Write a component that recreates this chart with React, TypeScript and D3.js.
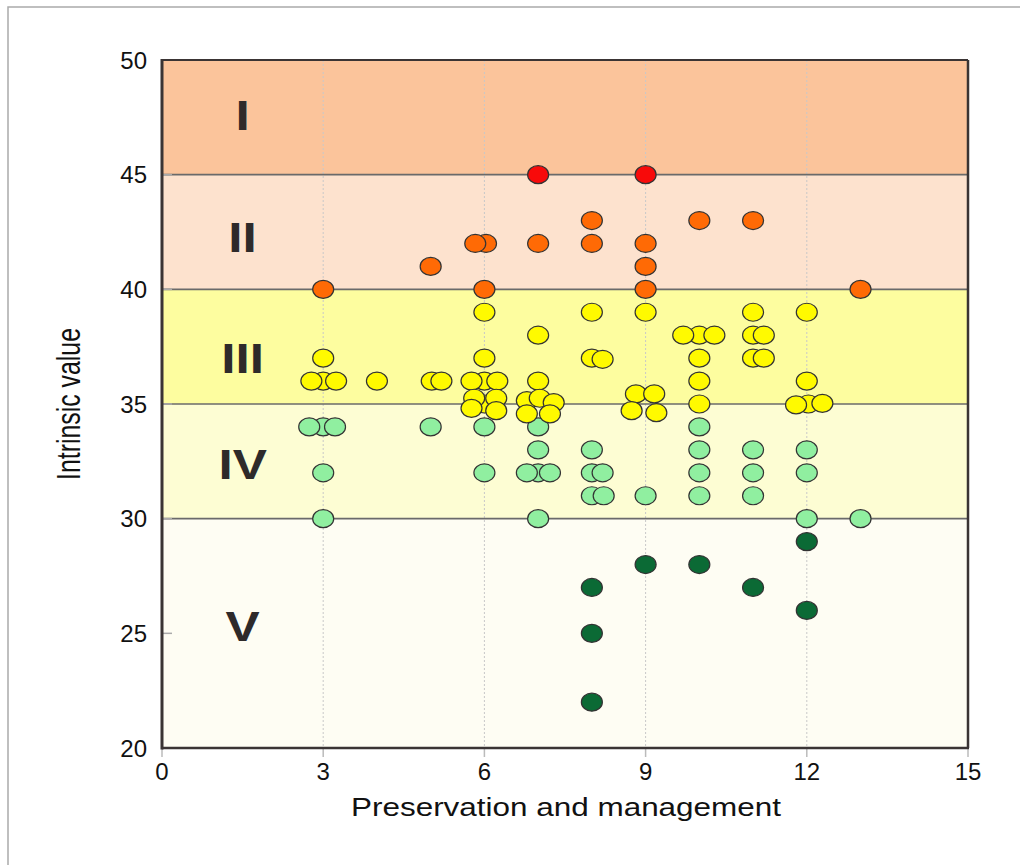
import React from "react";
import * as d3 from "d3";

// ---------- data ----------
const xTicks = [0, 3, 6, 9, 12, 15];
const yTicks = [20, 25, 30, 35, 40, 45, 50];
const gridX = [3, 6, 9, 12];

const bandNames = ["I", "II", "III", "IV", "V"];
const bandTop = [50, 45, 40, 35, 30];
const bandBottom = [45, 40, 35, 30, 20];
const bandLabelY = [47.6, 42.3, 37.0, 32.4, 25.3];
const bandColors = ["#FBC49B", "#FDE2CE", "#FDFD9F", "#FDFDD3", "#FEFDF3"];

type P = [number, number];

const redPoints: P[] = [[7, 45], [9, 45]];

const orangePoints: P[] = [
  [7, 42], [8, 43], [8, 42], [9, 42], [9, 41], [9, 40], [10, 43], [11, 43],
  [13, 40], [3, 40], [5, 41], [6.03, 42], [5.83, 42], [6, 40],
];

const yellowPoints: P[] = [
  [3, 37], [3, 36], [2.78, 36], [3.24, 36],
  [4, 36], [5.02, 36], [5.2, 36],
  [6, 39], [6, 37], [6, 36], [5.76, 36], [6.24, 36],
  [6, 35], [5.81, 35.25], [6.22, 35.25], [5.76, 34.81], [6.22, 34.71],
  [7, 38], [7, 36], [6.79, 35.15], [7.03, 35.25], [7.29, 35.06], [6.79, 34.57], [7.22, 34.57],
  [8, 39], [8, 37], [8.2, 36.95],
  [9, 39], [8.82, 35.44], [9.16, 35.44], [8.74, 34.71], [9.2, 34.62],
  [10, 38], [9.7, 38], [10.28, 38], [10, 37], [10, 36], [10, 35],
  [11, 39], [11, 38], [11.2, 38], [11, 37], [11.2, 37],
  [12, 39], [12, 36], [12.03, 35], [11.8, 34.96], [12.29, 35.03],
];

const greenPoints: P[] = [
  [3, 34], [2.74, 34], [3.22, 34], [3, 32], [3, 30],
  [5, 34], [6, 34], [6, 32],
  [7, 34], [7, 33], [7, 32], [6.79, 32], [7.22, 32], [7, 30],
  [8, 33], [8, 32], [8.2, 32], [8, 31], [8.22, 31], [9, 31],
  [10, 34], [10, 33], [10, 32], [10, 31],
  [11, 33], [11, 32], [11, 31],
  [12, 33], [12, 32], [12, 30], [13, 30],
];

const darkGreenPoints: P[] = [
  [8, 27], [8, 25], [8, 22], [9, 28], [10, 28], [11, 27], [12, 29], [12, 26],
];

const pointGroups: { pts: P[]; color: string }[] = [
  { pts: darkGreenPoints, color: "#0B6A35" },
  { pts: greenPoints, color: "#90EFA0" },
  { pts: yellowPoints, color: "#FFFA00" },
  { pts: orangePoints, color: "#FF6A05" },
  { pts: redPoints, color: "#F80A0A" },
];

// ---------- layout ----------
const W = 1020;
const H = 865;
const L = 162, R = 968, T = 60, B = 748;

export default function App() {
  const x = d3.scaleLinear().domain([0, 15]).range([L, R]);
  const y = d3.scaleLinear().domain([20, 50]).range([B, T]);
  const font = "'Liberation Sans', Arial, Helvetica, sans-serif";

  return (
    <svg
      width={W}
      height={H}
      viewBox={`0 0 ${W} ${H}`}
      style={{ position: "absolute", left: 0, top: 0, display: "block", background: "#fff" }}
    >
      {/* outer frame */}
      <path d={`M8,${H} V7 H${W}`} fill="none" stroke="#aaa" strokeWidth={1.5} />

      {/* bands */}
      {bandNames.map((n, i) => (
        <rect
          key={n}
          x={x(0)}
          y={y(bandTop[i])}
          width={x(15) - x(0)}
          height={y(bandBottom[i]) - y(bandTop[i])}
          fill={bandColors[i]}
        />
      ))}

      {/* vertical dotted grid */}
      {gridX.map((g) => (
        <line key={g} x1={x(g)} x2={x(g)} y1={y(50)} y2={y(20)} stroke="#c8c8c8" strokeWidth={1} strokeDasharray="2,2" />
      ))}

      {/* band boundaries */}
      {[45, 40, 35, 30].map((v) => (
        <line key={v} x1={x(0)} x2={x(15)} y1={y(v)} y2={y(v)} stroke="#6a6a6a" strokeWidth={1.6} />
      ))}

      {/* band labels */}
      {bandNames.map((n, i) => (
        <text
          key={n}
          transform={`translate(${x(1.5)},${y(bandLabelY[i]) + 15}) scale(1.22,1)`}
          textAnchor="middle"
          fontFamily={font}
          fontWeight="bold"
          fontSize={42}
          fill="#2e2a2a"
        >
          {n}
        </text>
      ))}

      {/* y ticks inside */}
      {yTicks.map((t) => (
        <line key={t} x1={x(0)} x2={x(0) + 10} y1={y(t)} y2={y(t)} stroke="#aaa" strokeWidth={1.5} />
      ))}
      {/* x ticks outside */}
      {xTicks.map((t) => (
        <line key={t} x1={x(t)} x2={x(t)} y1={y(20)} y2={y(20) + 9} stroke="#bbb" strokeWidth={1.5} />
      ))}

      {/* frame */}
      <line x1={L} x2={R} y1={T} y2={T} stroke="#3a3434" strokeWidth={2} />
      <line x1={R} x2={R} y1={T} y2={B} stroke="#3a3434" strokeWidth={2.5} />
      <line x1={L} x2={L} y1={T - 1} y2={B + 1.5} stroke="#3a3434" strokeWidth={3} />
      <line x1={L} x2={R + 1} y1={B} y2={B} stroke="#3a3434" strokeWidth={2.5} />

      {/* points */}
      {pointGroups.map((g, gi) =>
        g.pts.map((p, i) => (
          <ellipse
            key={`${gi}-${i}`}
            cx={x(p[0])}
            cy={y(p[1])}
            rx={10.5}
            ry={9}
            fill={g.color}
            stroke="#333"
            strokeWidth={1.2}
          />
        ))
      )}

      {/* y tick labels */}
      {yTicks.map((t) => (
        <text key={t} x={147} y={y(t) + 8.5} textAnchor="end" fontFamily={font} fontSize={24} fill="#111">
          {t}
        </text>
      ))}

      {/* x tick labels */}
      {xTicks.map((t) => (
        <text key={t} x={x(t)} y={780} textAnchor="middle" fontFamily={font} fontSize={24} fill="#111">
          {t}
        </text>
      ))}

      {/* axis titles */}
      <text
        x={566}
        y={816}
        textAnchor="middle"
        fontFamily={font}
        fontSize={26.5}
        fill="#111"
        textLength={430}
        lengthAdjust="spacingAndGlyphs"
      >
        Preservation and management
      </text>
      <text
        transform="translate(80,404) rotate(-90)"
        textAnchor="middle"
        fontFamily={font}
        fontSize={34}
        fill="#111"
        textLength={152}
        lengthAdjust="spacingAndGlyphs"
      >
        Intrinsic value
      </text>
    </svg>
  );
}
